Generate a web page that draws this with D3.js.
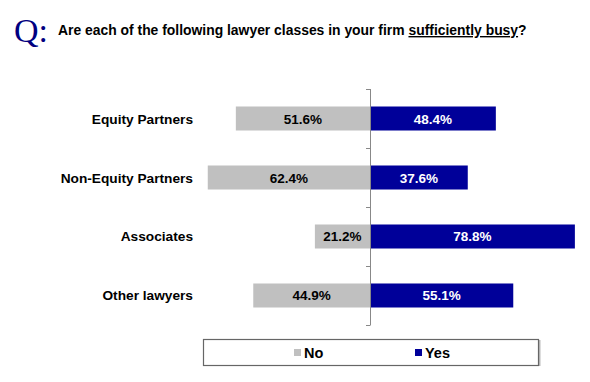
<!DOCTYPE html>
<html><head><meta charset="utf-8">
<script src="https://cdn.jsdelivr.net/npm/d3@7/dist/d3.min.js"></script>
<style>body{margin:0;background:#fff}svg{display:block;font-family:"Liberation Sans",Arial,sans-serif}</style>
</head><body>
<script>
const categories = ["Equity Partners", "Non-Equity Partners", "Associates", "Other lawyers"];
const noValues = [51.6, 62.4, 21.2, 44.9];
const yesValues = [48.4, 37.6, 78.8, 55.1];
const seriesNames = ["No", "Yes"];
const seriesColors = ["#c0c0c0", "#000099"];

const W = 590, H = 382;
const svg = d3.select("body").append("svg").attr("width", W).attr("height", H);

// Title
svg.append("text").attr("x", 14).attr("y", 42)
  .attr("font-family", "'Liberation Serif','Times New Roman',serif")
  .attr("font-size", 34).attr("fill", "#000080").text("Q:");
const t = svg.append("text").attr("x", 58).attr("y", 35)
  .attr("font-size", 13.9).attr("font-weight", "bold").attr("fill", "#000");
t.append("tspan").text("Are each of the following lawyer classes in your firm ");
t.append("tspan").attr("text-decoration", "underline").text("sufficiently busy");
t.append("tspan").text("?");

const cx = 370;
const xNo = d3.scaleLinear().domain([0, 100]).range([cx, cx - 260]);
const xYes = d3.scaleLinear().domain([0, 100]).range([cx, cx + 260]);
const y = d3.scaleBand().domain(categories).range([89, 325])
  .paddingInner(0.593).paddingOuter(0.2966);

const data = categories.map((c, i) => ({c, no: noValues[i], yes: yesValues[i]}));

// bars
svg.selectAll("rect.no").data(data).join("rect").attr("class", "no")
  .attr("x", d => xNo(d.no)).attr("y", d => y(d.c))
  .attr("width", d => xNo(0) - xNo(d.no)).attr("height", y.bandwidth())
  .attr("fill", seriesColors[0]);
svg.selectAll("rect.yes").data(data).join("rect").attr("class", "yes")
  .attr("x", xYes(0)).attr("y", d => y(d.c))
  .attr("width", d => xYes(d.yes) - xYes(0)).attr("height", y.bandwidth())
  .attr("fill", seriesColors[1]);

// axis
const step = y.step();
const [r0, r1] = y.range();
svg.append("line").attr("x1", cx + 0.5).attr("x2", cx + 0.5).attr("y1", r0).attr("y2", r1)
  .attr("stroke", "#888").attr("stroke-width", 1);
const bounds = d3.range(categories.length + 1).map(i => r0 + i * step);
svg.selectAll("line.tick").data(bounds).join("line").attr("class", "tick")
  .attr("x1", cx - 4).attr("x2", cx + 0.5).attr("y1", d => Math.round(d) + 0.5).attr("y2", d => Math.round(d) + 0.5)
  .attr("stroke", "#888");

// category labels
svg.selectAll("text.cat").data(data).join("text").attr("class", "cat")
  .attr("x", 193).attr("y", d => y(d.c) + y.bandwidth() / 2 + 5)
  .attr("text-anchor", "end").attr("font-size", 13.7).attr("font-weight", "bold")
  .text(d => d.c);

// value labels
svg.selectAll("text.vno").data(data).join("text").attr("class", "vno")
  .attr("x", d => (xNo(d.no) + xNo(0)) / 2).attr("y", d => y(d.c) + y.bandwidth() / 2 + 5)
  .attr("text-anchor", "middle").attr("font-size", 13.5).attr("font-weight", "bold").attr("fill", "#000")
  .text(d => d.no.toFixed(1) + "%");
svg.selectAll("text.vyes").data(data).join("text").attr("class", "vyes")
  .attr("x", d => (xYes(d.yes) + xYes(0)) / 2).attr("y", d => y(d.c) + y.bandwidth() / 2 + 5)
  .attr("text-anchor", "middle").attr("font-size", 13.5).attr("font-weight", "bold").attr("fill", "#fff")
  .text(d => d.yes.toFixed(1) + "%");

// legend
svg.append("rect").attr("x", 539).attr("y", 340).attr("width", 1.5).attr("height", 26).attr("fill", "#bbb");
svg.append("rect").attr("x", 203.5).attr("y", 339.5).attr("width", 335).attr("height", 26)
  .attr("fill", "#fff").attr("stroke", "#666").attr("stroke-width", 1.2);
const legX = [294, 415];
seriesNames.forEach((n, i) => {
  svg.append("rect").attr("x", legX[i]).attr("y", 349).attr("width", 7).attr("height", 7).attr("fill", seriesColors[i]);
  svg.append("text").attr("x", legX[i] + 10).attr("y", 357.5).attr("font-size", 14.5).attr("font-weight", "bold").text(n);
});
</script>
</body></html>
